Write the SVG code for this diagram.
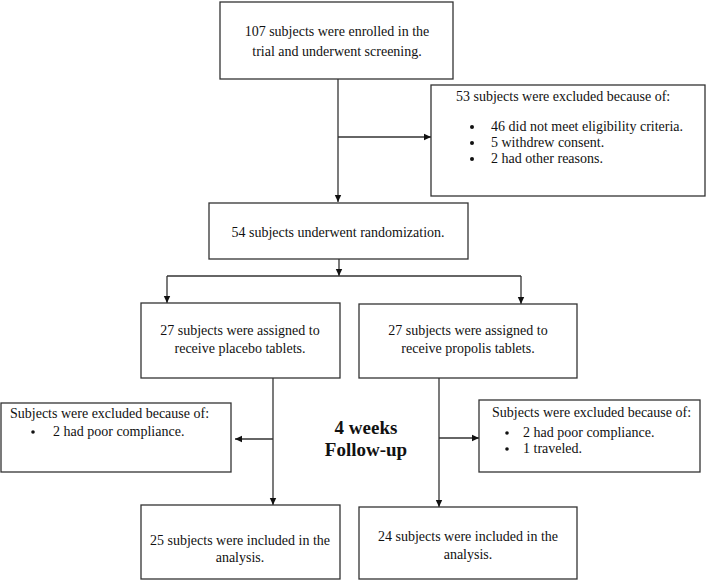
<svg xmlns="http://www.w3.org/2000/svg" width="709" height="581" viewBox="0 0 709 581">
<style>
.box{fill:#fff;stroke:#333;stroke-width:1.3}
.t{font-family:"Liberation Serif","Times New Roman",serif;font-size:14px;fill:#111}
.c{text-anchor:middle}
.b{font-family:"Liberation Serif","Times New Roman",serif;font-size:19px;font-weight:bold;fill:#111;text-anchor:middle}
.ln{stroke:#333;stroke-width:1.3;fill:none}
</style>
<defs>
<marker id="ah" markerWidth="8" markerHeight="8" refX="7" refY="4" orient="auto" markerUnits="userSpaceOnUse">
<path d="M0,0.8 L7,4 L0,7.2 Z" fill="#111"/>
</marker>
</defs>
<rect width="709" height="581" fill="#fff"/>
<g id="connectors">
<path class="ln" d="M338,79 V202" marker-end="url(#ah)"/>
<path class="ln" d="M338,137 H431" marker-end="url(#ah)"/>
<path class="ln" d="M339,259 V276" marker-end="url(#ah)"/>
<path class="ln" d="M167,276 H521"/>
<path class="ln" d="M167,276 V303" marker-end="url(#ah)"/>
<path class="ln" d="M521,276 V304" marker-end="url(#ah)"/>
<path class="ln" d="M273,378 V505" marker-end="url(#ah)"/>
<path class="ln" d="M273,439 H235" marker-end="url(#ah)"/>
<path class="ln" d="M439,378 V507" marker-end="url(#ah)"/>
<path class="ln" d="M439,438 H479" marker-end="url(#ah)"/>
</g>
<g id="n_enrolled">
<rect class="box" x="220" y="2" width="233" height="77"/>
<text class="t c" x="337" y="36">107 subjects were enrolled in the</text>
<text class="t c" x="337" y="56">trial and underwent screening.</text>
</g>
<g id="n_excluded1">
<rect class="box" x="431" y="85" width="274" height="111"/>
<text class="t" x="456" y="101">53 subjects were excluded because of:</text>
<circle cx="472" cy="127" r="2" fill="#111"/>
<text class="t" x="491" y="131">46 did not meet eligibility criteria.</text>
<circle cx="472" cy="143" r="2" fill="#111"/>
<text class="t" x="491" y="147">5 withdrew consent.</text>
<circle cx="472" cy="159" r="2" fill="#111"/>
<text class="t" x="491" y="163">2 had other reasons.</text>
</g>
<g id="n_random">
<rect class="box" x="209" y="203" width="259" height="56"/>
<text class="t c" x="338" y="237">54 subjects underwent randomization.</text>
</g>
<g id="n_placebo">
<rect class="box" x="141" y="303" width="199" height="75"/>
<text class="t c" x="240" y="335">27 subjects were assigned to</text>
<text class="t c" x="240" y="353">receive placebo tablets.</text>
</g>
<g id="n_propolis">
<rect class="box" x="359" y="304" width="218" height="74"/>
<text class="t c" x="468" y="335">27 subjects were assigned to</text>
<text class="t c" x="468" y="353">receive propolis tablets.</text>
</g>
<g id="n_excl_placebo">
<rect class="box" x="1" y="403" width="230" height="69"/>
<text class="t" x="10" y="418">Subjects were excluded because of:</text>
<circle cx="33" cy="432" r="1.8" fill="#111"/>
<text class="t" x="53" y="436">2 had poor compliance.</text>
</g>
<g id="n_followup">
<text class="b" x="366" y="434">4 weeks</text>
<text class="b" x="366" y="456">Follow-up</text>
</g>
<g id="n_excl_propolis">
<rect class="box" x="479" y="400" width="221" height="72"/>
<text class="t" x="492" y="417">Subjects were excluded because of:</text>
<circle cx="507" cy="433" r="1.8" fill="#111"/>
<text class="t" x="523" y="437">2 had poor compliance.</text>
<circle cx="507" cy="449" r="1.8" fill="#111"/>
<text class="t" x="523" y="453">1 traveled.</text>
</g>
<g id="n_incl_placebo">
<rect class="box" x="141" y="505" width="199" height="74"/>
<text class="t c" x="240" y="545">25 subjects were included in the</text>
<text class="t c" x="240" y="562">analysis.</text>
</g>
<g id="n_incl_propolis">
<rect class="box" x="359" y="507" width="218" height="72"/>
<text class="t c" x="468" y="541">24 subjects were included in the</text>
<text class="t c" x="468" y="559">analysis.</text>
</g>
</svg>
